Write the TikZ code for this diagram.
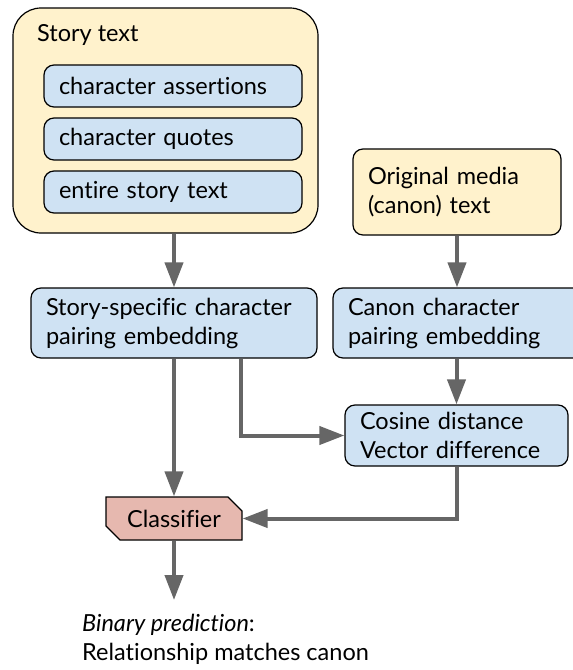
\documentclass[tikz,border=0pt]{standalone}
\usepackage{fontspec}
\setmainfont{Lato}[Ligatures=NoCommon]
\usetikzlibrary{arrows.meta,positioning,shapes.misc}
\definecolor{paleyellow}{HTML}{FFF2CC}
\definecolor{paleblue}{HTML}{CFE2F3}
\definecolor{palered}{HTML}{E6B8AF}
\definecolor{flowgray}{HTML}{666666}

\begin{document}
\begin{tikzpicture}[x=1pt,y=-1pt,font=\fontsize{23.5}{29}\selectfont,
  >={Triangle[length=25pt,width=18pt]},
  box/.style={draw=black,line width=1.2pt,rounded corners=10pt,fill=paleblue,
    align=left,inner xsep=15pt,inner ysep=0pt},
  flow/.style={->,draw=flowgray,line width=4pt}]
 \useasboundingbox (0,0) rectangle (573,670);
 % story side
 \node[box,fill=paleyellow,rounded corners=28pt,minimum width=305pt,
    minimum height=225pt] (story) at (165.5,120.5) {};
 \node[anchor=base west,inner sep=0pt] (storylbl) at (37,41) {Story text};
 \node[box,text width=228pt,minimum height=42pt] (assert) at (173,86)
   {character assertions};
 \node[box,text width=228pt,minimum height=42pt] (quotes) at (173,139)
   {character quotes};
 \node[box,text width=228pt,minimum height=42pt] (entire) at (173,192)
   {entire story text};
 \node[box,text width=256pt,minimum height=70pt] (storyemb) at (174,323)
   {Story-specific character\\pairing embedding};
 % canon side
 \node[box,fill=paleyellow,text width=178pt,minimum height=86pt] (orig)
   at (457,192) {Original media\\(canon) text};
 \node[box,text width=228pt,minimum height=70pt] (canonemb) at (462,323)
   {Canon character\\pairing embedding};
 \node[box,text width=193pt,minimum height=61pt] (cosine) at (456.5,435.5)
   {Cosine distance\\Vector difference};
 \node[box,fill=palered,rounded corners=0pt,chamfered rectangle,
    chamfered rectangle corners={north east,south west},
    chamfered rectangle xsep=7pt,chamfered rectangle ysep=7pt,
    minimum width=136pt,minimum height=43pt,align=center,inner xsep=4pt]
   (classifier) at (174,518.5) {Classifier};
 \coordinate (predtip) at (174,600);
 \node[anchor=north west,align=left,inner sep=0pt] (pred) at (82,614)
   {\textit{Binary prediction}:\\Relationship matches canon};
 % arrows
 \draw[flow] (story.south -| storyemb.north) -- (storyemb.north);
 \draw[flow] (orig.south) -- (orig.south |- canonemb.north);
 \draw[flow] (canonemb.south -| cosine.north) -- (cosine.north);
 \draw[flow] (storyemb.south) -- (classifier.north);
 \draw[flow] ([xshift=67pt]storyemb.south) |- (cosine.west);
 \draw[flow] (cosine.south) |- (classifier.east);
 \draw[flow] (classifier.south) -- (predtip);
\end{tikzpicture}
\end{document}
